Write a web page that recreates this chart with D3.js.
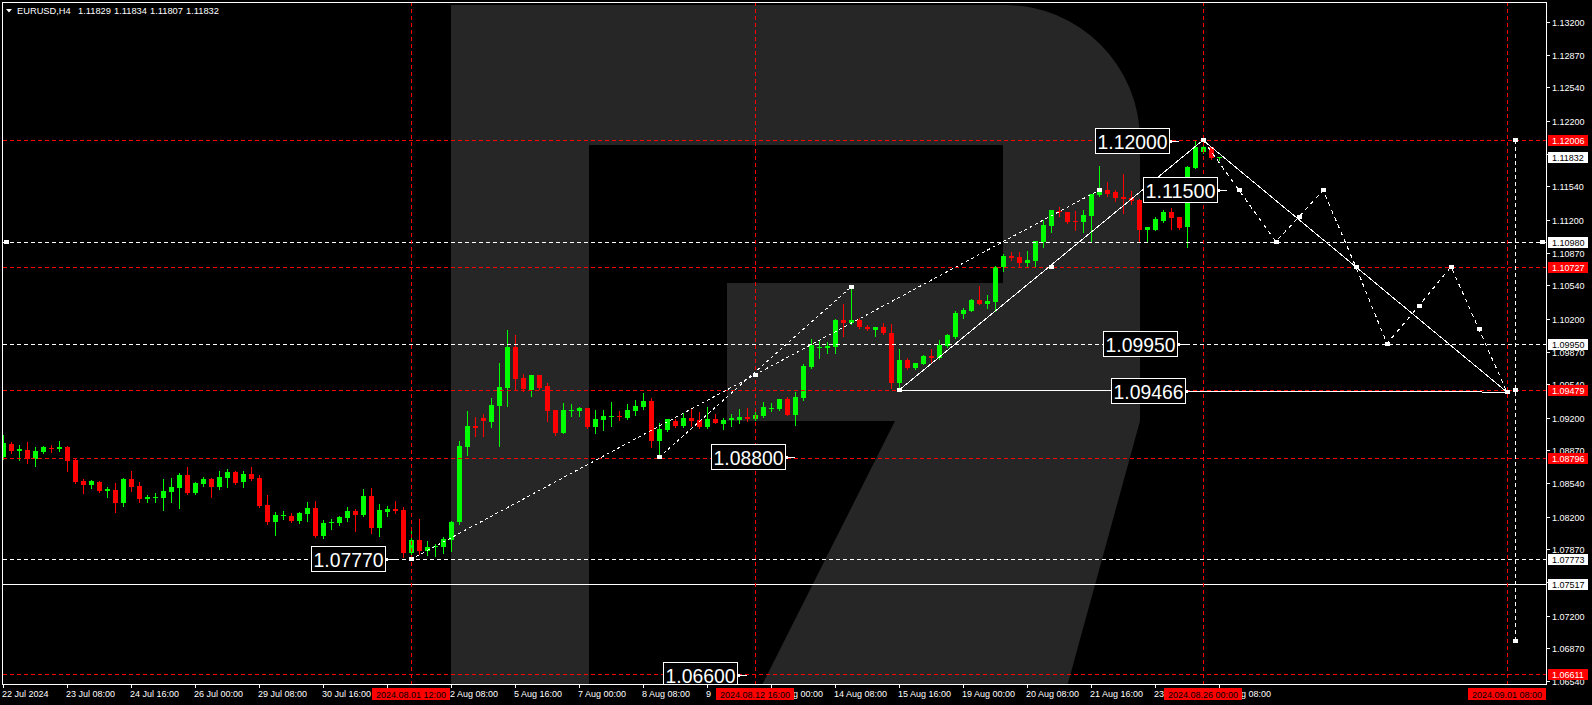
<!DOCTYPE html>
<html><head><meta charset="utf-8">
<script src="https://cdn.jsdelivr.net/npm/d3@7/dist/d3.min.js"></script>
<style>
html,body{margin:0;padding:0;background:#000;overflow:hidden;}
svg{display:block;}
text{font-family:"Liberation Sans",Arial,sans-serif;}
</style></head><body>
<svg id="c" width="1592" height="705"></svg>
<script>
// ---------------- DATA ----------------
const symbol = "EURUSD,H4";
const lastOHLC = ["1.11829","1.11834","1.11807","1.11832"];

const opens = [1.08804,1.08935,1.08864,1.08874,1.08783,1.08854,1.08894,1.08884,1.08904,1.08773,
1.08561,1.08521,1.08551,1.08460,1.08470,1.08339,1.08581,1.08510,1.08379,1.08389,
1.08389,1.08450,1.08490,1.08622,1.08440,1.08531,1.08581,1.08500,1.08591,1.08652,
1.08551,1.08632,1.08591,1.08318,1.08147,1.08207,1.08207,1.08157,1.08228,1.08288,
1.08005,1.08137,1.08137,1.08187,1.08258,1.08217,1.08409,1.08086,1.08248,1.08278,
1.08268,1.07834,1.07965,1.07854,1.07894,1.07894,1.07965,1.08147,1.08908,1.09117,
1.09197,1.09160,1.09322,1.09504,1.09915,1.09602,1.09480,1.09633,1.09521,1.09279,
1.09050,1.09272,1.09268,1.09299,1.09107,1.09177,1.09211,1.09221,1.09195,1.09268,
1.09309,1.09370,1.08968,1.09079,1.09168,1.09117,1.09198,1.09177,1.09107,1.09188,
1.09140,1.09174,1.09177,1.09208,1.09188,1.09218,1.09286,1.09289,1.09390,1.09228,
1.09400,1.09714,1.09906,1.09906,1.09916,1.10188,1.10158,1.10188,1.10117,1.10087,
1.10117,1.10053,1.09548,1.09784,1.09700,1.09744,1.09825,1.09801,1.09926,1.10016,
1.10252,1.10282,1.10390,1.10350,1.10370,1.10724,1.10835,1.10828,1.10767,1.10785,
1.10979,1.11141,1.11293,1.11279,1.11188,1.11182,1.11242,1.11454,1.11501,1.11481,
1.11431,1.11420,1.11400,1.11098,1.11098,1.11188,1.11283,1.11226,1.11131,1.11727,
1.11882,1.11933,1.11829];
const highs = [1.09026,1.08955,1.08925,1.08955,1.08904,1.08915,1.08925,1.08965,1.08915,1.08783,
1.08581,1.08571,1.08561,1.08500,1.08541,1.08591,1.08662,1.08551,1.08420,1.08440,
1.08581,1.08591,1.08642,1.08702,1.08551,1.08601,1.08591,1.08662,1.08682,1.08662,
1.08662,1.08702,1.08622,1.08420,1.08248,1.08258,1.08238,1.08248,1.08349,1.08359,
1.08167,1.08177,1.08207,1.08298,1.08278,1.08480,1.08490,1.08329,1.08308,1.08359,
1.08298,1.08086,1.08177,1.07955,1.07925,1.07995,1.08157,1.08965,1.09268,1.09207,
1.09238,1.09400,1.09749,1.10087,1.10036,1.09643,1.09633,1.09633,1.09548,1.09279,
1.09346,1.09339,1.09312,1.09299,1.09279,1.09279,1.09359,1.09268,1.09339,1.09380,
1.09450,1.09400,1.09143,1.09188,1.09188,1.09245,1.09289,1.09258,1.09309,1.09242,
1.09198,1.09238,1.09289,1.09299,1.09268,1.09359,1.09349,1.09393,1.09410,1.09461,
1.09744,1.09997,1.09987,1.09967,1.10198,1.10350,1.10522,1.10208,1.10138,1.10117,
1.10158,1.10148,1.09895,1.09801,1.09757,1.09835,1.09895,1.09987,1.10050,1.10276,
1.10313,1.10404,1.10532,1.10438,1.10731,1.10858,1.10872,1.10872,1.10886,1.10987,
1.11199,1.11303,1.11327,1.11279,1.11293,1.11300,1.11461,1.11747,1.11582,1.11501,
1.11660,1.11491,1.11410,1.11131,1.11232,1.11300,1.11323,1.11232,1.11747,1.12000,
1.12006,1.11940,1.11834];
const lows = [1.08784,1.08844,1.08773,1.08743,1.08713,1.08844,1.08854,1.08864,1.08662,1.08541,
1.08440,1.08490,1.08450,1.08399,1.08248,1.08308,1.08460,1.08349,1.08349,1.08349,
1.08268,1.08349,1.08288,1.08430,1.08430,1.08510,1.08399,1.08480,1.08500,1.08531,
1.08500,1.08571,1.08298,1.08127,1.08015,1.08177,1.08147,1.08137,1.08157,1.07995,
1.07985,1.08076,1.08117,1.08157,1.08056,1.08207,1.08036,1.08005,1.08207,1.08238,
1.07793,1.07773,1.07824,1.07813,1.07803,1.07834,1.07854,1.08127,1.08823,1.09019,
1.09019,1.09110,1.08918,1.09322,1.09480,1.09473,1.09420,1.09488,1.09171,1.09030,
1.09050,1.09218,1.09218,1.09096,1.09050,1.09077,1.09117,1.09177,1.09188,1.09228,
1.09286,1.08908,1.08800,1.09069,1.09110,1.09110,1.09117,1.09096,1.09096,1.09144,
1.09083,1.09120,1.09150,1.09171,1.09177,1.09211,1.09268,1.09282,1.09225,1.09127,
1.09380,1.09707,1.09805,1.09856,1.09856,1.10027,1.10148,1.10107,1.10087,1.10027,
1.10047,1.09501,1.09479,1.09690,1.09690,1.09741,1.09754,1.09790,1.09919,1.10009,
1.10212,1.10279,1.10350,1.10312,1.10279,1.10683,1.10795,1.10727,1.10727,1.10737,
1.10929,1.11081,1.11242,1.11166,1.11098,1.11081,1.10979,1.11444,1.11441,1.11390,
1.11269,1.11360,1.10987,1.10987,1.11098,1.11178,1.11108,1.11108,1.10926,1.11727,
1.11872,1.11812,1.11807];
const closes = [1.08945,1.08864,1.08884,1.08783,1.08864,1.08904,1.08884,1.08904,1.08763,1.08551,
1.08521,1.08561,1.08460,1.08480,1.08339,1.08581,1.08500,1.08379,1.08399,1.08399,
1.08460,1.08500,1.08622,1.08440,1.08541,1.08581,1.08500,1.08601,1.08652,1.08541,
1.08632,1.08581,1.08308,1.08147,1.08217,1.08217,1.08157,1.08238,1.08288,1.08005,
1.08137,1.08147,1.08197,1.08258,1.08217,1.08409,1.08086,1.08268,1.08278,1.08258,
1.07834,1.07965,1.07854,1.07894,1.07904,1.07975,1.08147,1.08918,1.09117,1.09096,
1.09164,1.09329,1.09508,1.09915,1.09592,1.09488,1.09633,1.09504,1.09272,1.09050,
1.09279,1.09282,1.09299,1.09107,1.09191,1.09221,1.09221,1.09205,1.09279,1.09319,
1.09370,1.08968,1.09083,1.09188,1.09117,1.09198,1.09168,1.09107,1.09188,1.09147,
1.09177,1.09194,1.09208,1.09188,1.09228,1.09309,1.09299,1.09390,1.09231,1.09410,
1.09724,1.09936,1.09916,1.09926,1.10188,1.10158,1.10188,1.10120,1.10097,1.10117,
1.10053,1.09548,1.09784,1.09700,1.09757,1.09825,1.09801,1.09936,1.10037,1.10259,
1.10286,1.10390,1.10350,1.10380,1.10724,1.10838,1.10815,1.10767,1.10795,1.10987,
1.11145,1.11297,1.11279,1.11182,1.11182,1.11249,1.11461,1.11501,1.11461,1.11420,
1.11413,1.11390,1.11098,1.11131,1.11206,1.11283,1.11222,1.11121,1.11734,1.11933,
1.11933,1.11829,1.11832];

// time axis (bar index -> label)
const xTickBars   = [0,8,16,24,32,40,48,56,64,72,80,88,96,104,112,120,128,136,144,152];
const xTickLabels = ["22 Jul 2024","23 Jul 08:00","24 Jul 16:00","26 Jul 00:00","29 Jul 08:00","30 Jul 16:00","1 Aug 00:00","2 Aug 08:00","5 Aug 16:00","7 Aug 00:00","8 Aug 08:00","9 Aug 16:00","13 Aug 00:00","14 Aug 08:00","15 Aug 16:00","19 Aug 00:00","20 Aug 08:00","21 Aug 16:00","23 Aug 00:00","26 Aug 08:00"];
// price axis labels
const yTickLabels = ["1.13200","1.12870","1.12540","1.12200","1.11870","1.11540","1.11200","1.10870","1.10540","1.10200","1.09870","1.09540","1.09200","1.08870","1.08540","1.08200","1.07870","1.07540","1.07200","1.06870","1.06540"];

// horizontal levels
const redLevels = [1.12006, 1.10727, 1.09479, 1.08796, 1.06611];
const whiteDashLevels = [1.10980, 1.09950, 1.07773];
const whiteSolidLevels = [1.07517];
const currentPrice = 1.11832;
// vertical lines (bar index, label)
const vBars = [51, 94, 150, 188];
const vLabels = ["2024.08.01 12:00","2024.08.12 16:00","2024.08.26 00:00","2024.09.01 08:00"];

// text price labels on chart (anchor bar, price)
const noteBars   = [49, 99, 147, 153, 148, 149, 93];
const notePrices = [1.07770, 1.08800, 1.12000, 1.11500, 1.09950, 1.09466, 1.06600];

// dashed channel lines [bar1, price1, bar2, price2]
const channelA = [51, 1.07770, 137, 1.11500];
const channelB = [82, 1.08800, 106, 1.10522];
// solid triangle
const triBars   = [112, 150, 188];
const triPrices = [1.09479, 1.12006, 1.09460];
// forecast zigzag
const zigBars   = [150, 154.5, 159.1, 162, 165, 169.1, 173, 177, 181, 184.5, 188];
const zigPrices = [1.12006, 1.11500, 1.10980, 1.11232, 1.11500, 1.10727, 1.09950, 1.10333, 1.10727, 1.10094, 1.09460];
// vertical target line
const targetBar = 189;
const targetPrices = [1.12006, 1.09479, 1.06944];

// ---------------- DRAW ----------------
const W = 1592, H = 705;
const P = {l:3, r:1546, t:2, b:684};
const x = d3.scaleLinear().domain([0, (P.r - P.l) / 8]).range([P.l, P.r]);
const y = d3.scaleLinear().domain([1.06510, 1.13402]).range([P.b, P.t]);
const RED = "#ff0000", GREEN = "#00ff00", WHITE = "#ffffff";
const px = v => Math.round(v) + 0.5;

const svg = d3.select("#c");
svg.append("rect").attr("width", W).attr("height", H).attr("fill", "#000");
const defs = svg.append("defs");
defs.append("clipPath").attr("id", "plot").append("rect")
  .attr("x", P.l).attr("y", P.t).attr("width", P.r - P.l).attr("height", P.b - P.t);

const plot = svg.append("g").attr("clip-path", "url(#plot)");

// watermark logo "R"
plot.append("path").attr("fill", "#262626")
  .attr("d", "M451,5 H1005 A135,135 0 0 1 1140,140 V421 H727 V283 H1003 V145 H589 V705 H451 Z");
plot.append("path").attr("fill", "#262626")
  .attr("d", "M895,421 H1140 L1062,705 H752 Z");

// candles
const candles = plot.append("g").attr("shape-rendering", "crispEdges");
opens.forEach((o, i) => {
  const c = closes[i], up = c >= o, col = up ? GREEN : RED;
  const X = Math.round(x(i));
  candles.append("line").attr("x1", X + 0.5).attr("x2", X + 0.5)
    .attr("y1", Math.round(y(highs[i]))).attr("y2", Math.round(y(lows[i])) + 1)
    .attr("stroke", col).attr("stroke-width", 1);
  const yt = Math.round(y(Math.max(o, c))), yb = Math.round(y(Math.min(o, c)));
  candles.append("rect").attr("x", X - 2).attr("y", yt).attr("width", 5)
    .attr("height", Math.max(1, yb - yt)).attr("fill", col);
});

// horizontal levels
const lines = plot.append("g").attr("shape-rendering", "crispEdges");
redLevels.forEach(p => lines.append("line").attr("x1", P.l).attr("x2", P.r)
  .attr("y1", px(y(p))).attr("y2", px(y(p))).attr("stroke", RED).attr("stroke-dasharray", "4,3"));
whiteDashLevels.forEach(p => lines.append("line").attr("x1", P.l).attr("x2", P.r)
  .attr("y1", px(y(p))).attr("y2", px(y(p))).attr("stroke", WHITE).attr("stroke-dasharray", "4,3"));
whiteSolidLevels.forEach(p => lines.append("line").attr("x1", P.l).attr("x2", P.r)
  .attr("y1", px(y(p))).attr("y2", px(y(p))).attr("stroke", WHITE));
vBars.forEach(b => lines.append("line").attr("x1", px(x(b))).attr("x2", px(x(b)))
  .attr("y1", P.t).attr("y2", P.b).attr("stroke", RED).attr("stroke-dasharray", "4,3"));

function marker(g, cx, cy) {
  g.append("rect").attr("x", Math.round(cx) - 2).attr("y", Math.round(cy) - 2)
    .attr("width", 5).attr("height", 4).attr("fill", WHITE).attr("shape-rendering", "crispEdges");
}
const objs = plot.append("g").attr("shape-rendering", "crispEdges");
marker(objs, P.l + 3, y(1.10980));
marker(objs, P.r - 4, y(1.10980));

[channelA, channelB].forEach(c => {
  objs.append("line").attr("x1", x(c[0])).attr("y1", y(c[1])).attr("x2", x(c[2])).attr("y2", y(c[3]))
    .attr("stroke", WHITE).attr("stroke-dasharray", "3,3").attr("stroke-width", 1);
  marker(objs, x(c[0]), y(c[1]));
  marker(objs, x(c[2]), y(c[3]));
});
marker(objs, x(94), y(1.09635));

const tri = [[0,1],[0,2],[1,2]];
tri.forEach(([a, b]) => objs.append("line")
  .attr("x1", x(triBars[a])).attr("y1", y(triPrices[a])).attr("x2", x(triBars[b])).attr("y2", y(triPrices[b]))
  .attr("stroke", WHITE).attr("stroke-width", 1));
triBars.forEach((b, i) => marker(objs, x(b), y(triPrices[i])));
marker(objs, x(131), y(1.10727));
const zig = d3.line().x(d => x(d[0])).y(d => y(d[1]));
const zpts = zigBars.map((b, i) => [b, zigPrices[i]]);
objs.append("path").attr("d", zig(zpts)).attr("fill", "none").attr("stroke", WHITE)
  .attr("stroke-dasharray", "4,4").attr("stroke-width", 1);
zpts.slice(1).forEach(p => marker(objs, x(p[0]), y(p[1])));
objs.append("line").attr("x1", px(x(targetBar))).attr("x2", px(x(targetBar)))
  .attr("y1", y(targetPrices[0])).attr("y2", y(targetPrices[2]))
  .attr("stroke", WHITE).attr("stroke-dasharray", "4,3");
targetPrices.forEach(p => marker(objs, x(targetBar), y(p)));

// price notes
const notes = plot.append("g");
noteBars.forEach((b, i) => {
  const ax = Math.round(x(b)), ay = Math.round(y(notePrices[i]));
  const bw = 74, bh = 25, br = ax - 10;
  notes.append("rect").attr("x", br - bw + 0.5).attr("y", ay - 12.5).attr("width", bw).attr("height", bh)
    .attr("fill", "#000").attr("stroke", WHITE).attr("stroke-width", 1);
  notes.append("text").attr("x", br - bw + 2.5).attr("y", ay + 8)
    .attr("font-size", 21).attr("fill", WHITE)
    .attr("textLength", 70).attr("lengthAdjust", "spacingAndGlyphs")
    .text(notePrices[i].toFixed(5));
  notes.append("rect").attr("x", br).attr("y", ay - 1).attr("width", 3).attr("height", 3).attr("fill", WHITE);
  notes.append("line").attr("x1", br).attr("x2", ax).attr("y1", ay + 0.5).attr("y2", ay + 0.5)
    .attr("stroke", WHITE).attr("shape-rendering", "crispEdges");
});

// frame
const fr = svg.append("g").attr("shape-rendering", "crispEdges");
fr.append("rect").attr("x", P.l - 0.5).attr("y", P.t + 0.5).attr("width", P.r - P.l + 0.5).attr("height", P.b - P.t)
  .attr("fill", "none").attr("stroke", WHITE);

// y axis
const ya = svg.append("g");
yTickLabels.forEach(t => {
  const v = +t, yy = Math.round(y(v));
  ya.append("line").attr("x1", P.r).attr("x2", P.r + 4).attr("y1", yy + 0.5).attr("y2", yy + 0.5)
    .attr("stroke", WHITE).attr("shape-rendering", "crispEdges");
  ya.append("text").attr("x", P.r + 6).attr("y", yy + 3.5).attr("font-size", 9).attr("fill", WHITE).text(t);
});
const boxes = [
  ...redLevels.map(p => ({p, bg: RED, fg: WHITE})),
  ...whiteDashLevels.map(p => ({p, bg: WHITE, fg: "#000"})),
  ...whiteSolidLevels.map(p => ({p, bg: WHITE, fg: "#000"})),
  {p: currentPrice, bg: WHITE, fg: "#000"}
];
boxes.forEach(b => {
  const yy = Math.round(y(b.p));
  ya.append("rect").attr("x", P.r + 2).attr("y", yy - 5).attr("width", 40).attr("height", 11)
    .attr("fill", b.bg).attr("shape-rendering", "crispEdges");
  ya.append("text").attr("x", P.r + 6).attr("y", yy + 3.5).attr("font-size", 9).attr("fill", b.fg)
    .text(b.p.toFixed(5));
});

// x axis
const xa = svg.append("g");
const redBoxes = vBars.map(b => [Math.round(x(b)) - 39, Math.round(x(b)) + 39]);
xTickBars.forEach((b, i) => {
  const xx = Math.round(x(b));
  xa.append("line").attr("x1", xx + 0.5).attr("x2", xx + 0.5).attr("y1", P.b).attr("y2", P.b + 4)
    .attr("stroke", WHITE).attr("shape-rendering", "crispEdges");
  const label = xTickLabels[i];
  const t = xa.append("text").attr("x", xx - 1).attr("y", 697).attr("font-size", 9).attr("fill", WHITE).text(label);
  const node = t.node();
  const vis = [];
  for (let k = 0; k < label.length; k++) {
    const s = node.getStartPositionOfChar(k).x, e = node.getEndPositionOfChar(k).x, c = (s + e) / 2;
    if (!redBoxes.some(([L, R]) => c >= L && c <= R)) vis.push(k);
  }
  if (vis.length === label.length) return;
  if (!vis.length) { t.remove(); return; }
  let a = vis[0], z = vis[vis.length - 1];
  while (a <= z && label[a] === " ") a++;
  while (z >= a && label[z] === " ") z--;
  if (a > z) { t.remove(); return; }
  const sx = node.getStartPositionOfChar(a).x;
  t.attr("x", sx).text(label.slice(a, z + 1));
});
vBars.forEach((b, i) => {
  const xx = Math.round(x(b));
  xa.append("rect").attr("x", xx - 39).attr("y", 688).attr("width", 78).attr("height", 12)
    .attr("fill", RED).attr("shape-rendering", "crispEdges");
  xa.append("text").attr("x", xx).attr("y", 697.5).attr("text-anchor", "middle")
    .attr("font-size", 9).attr("fill", "#000").text(vLabels[i]);
});

// header
const hd = svg.append("g");
hd.append("path").attr("d", "M6,9 H12 L9,12.5 Z").attr("fill", WHITE);
hd.append("text").attr("x", 17).attr("y", 13.5).attr("font-size", 9.3).attr("fill", WHITE).text(symbol);
lastOHLC.forEach((v, i) => hd.append("text").attr("x", 78 + i * 36).attr("y", 13.5)
  .attr("font-size", 9.3).attr("fill", WHITE).text(v));
</script>
</body></html>
